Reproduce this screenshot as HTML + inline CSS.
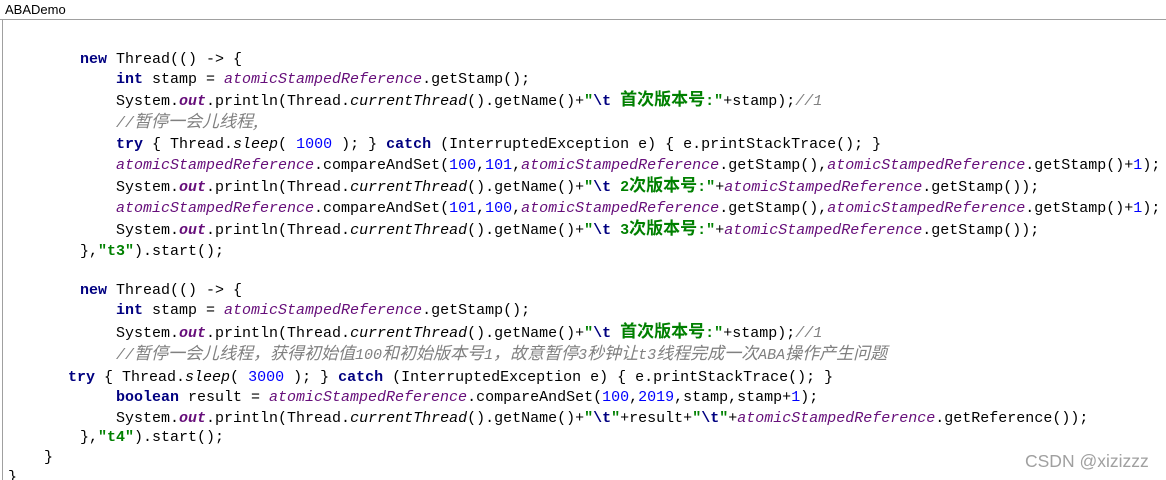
<!DOCTYPE html>
<html><head><meta charset="utf-8"><style>
html,body{margin:0;padding:0;background:#fff;width:1166px;height:480px;overflow:hidden;position:relative}
.tb{position:absolute;left:0;top:0;width:1166px;height:19px;border-bottom:1px solid #a0a0a0;font:13px "Liberation Sans",sans-serif;color:#000}
.tb span{position:absolute;left:5px;top:2px}
.lb{position:absolute;left:2px;top:20px;width:1px;height:460px;background:#a0a0a0}
.l{position:absolute;white-space:pre;font:15px/20px "Liberation Mono","Noto Sans CJK SC",monospace;color:#000}
.k{color:#000080;font-weight:bold}
.f{color:#660e7a;font-style:italic}
.o{color:#660e7a;font-style:italic;font-weight:bold}
.m{font-style:italic}
.s{color:#008000;font-weight:bold}
.e{color:#000080;font-weight:bold}
.n{color:#0000ff}
.c{color:#808080;font-style:italic}
.cj{font-family:"Noto Sans CJK SC",sans-serif;font-size:17px;line-height:0}
.wm{position:absolute;left:1025px;top:451px;font:17.5px "Liberation Sans","Noto Sans CJK SC",sans-serif;color:#a0a0a0}
</style></head><body>
<div class="tb"><span>ABADemo</span></div>
<div class="lb"></div>
<div class="l" style="left:80px;top:50px"><span class="k">new</span> Thread(() -&gt; {</div>
<div class="l" style="left:116px;top:70px"><span class="k">int</span> stamp = <span class="f">atomicStampedReference</span>.getStamp();</div>
<div class="l" style="left:116px;top:92px">System.<span class="o">out</span>.println(Thread.<span class="m">currentThread</span>().getName()+<span class="s">"</span><span class="e">\t</span><span class="s"> <span class="cj">首次版本号</span>:"</span>+stamp);<span class="c">//1</span></div>
<div class="l" style="left:116px;top:114px"><span class="c">//<span class="cj">暂停一会儿线程,</span></span></div>
<div class="l" style="left:116px;top:135px"><span class="k">try</span> { Thread.<span class="m">sleep</span>( <span class="n">1000</span> ); } <span class="k">catch</span> (InterruptedException e) { e.printStackTrace(); }</div>
<div class="l" style="left:116px;top:156px"><span class="f">atomicStampedReference</span>.compareAndSet(<span class="n">100</span>,<span class="n">101</span>,<span class="f">atomicStampedReference</span>.getStamp(),<span class="f">atomicStampedReference</span>.getStamp()+<span class="n">1</span>);</div>
<div class="l" style="left:116px;top:178px">System.<span class="o">out</span>.println(Thread.<span class="m">currentThread</span>().getName()+<span class="s">"</span><span class="e">\t</span><span class="s"> 2<span class="cj">次版本号</span>:"</span>+<span class="f">atomicStampedReference</span>.getStamp());</div>
<div class="l" style="left:116px;top:199px"><span class="f">atomicStampedReference</span>.compareAndSet(<span class="n">101</span>,<span class="n">100</span>,<span class="f">atomicStampedReference</span>.getStamp(),<span class="f">atomicStampedReference</span>.getStamp()+<span class="n">1</span>);</div>
<div class="l" style="left:116px;top:221px">System.<span class="o">out</span>.println(Thread.<span class="m">currentThread</span>().getName()+<span class="s">"</span><span class="e">\t</span><span class="s"> 3<span class="cj">次版本号</span>:"</span>+<span class="f">atomicStampedReference</span>.getStamp());</div>
<div class="l" style="left:80px;top:242px">},<span class="s">"t3"</span>).start();</div>
<div class="l" style="left:80px;top:281px"><span class="k">new</span> Thread(() -&gt; {</div>
<div class="l" style="left:116px;top:301px"><span class="k">int</span> stamp = <span class="f">atomicStampedReference</span>.getStamp();</div>
<div class="l" style="left:116px;top:324px">System.<span class="o">out</span>.println(Thread.<span class="m">currentThread</span>().getName()+<span class="s">"</span><span class="e">\t</span><span class="s"> <span class="cj">首次版本号</span>:"</span>+stamp);<span class="c">//1</span></div>
<div class="l" style="left:116px;top:346px"><span class="c">//<span class="cj">暂停一会儿线程，获得初始值</span>100<span class="cj">和初始版本号</span>1<span class="cj">，故意暂停</span>3<span class="cj">秒钟让</span>t3<span class="cj">线程完成一次</span>ABA<span class="cj">操作产生问题</span></span></div>
<div class="l" style="left:68px;top:368px"><span class="k">try</span> { Thread.<span class="m">sleep</span>( <span class="n">3000</span> ); } <span class="k">catch</span> (InterruptedException e) { e.printStackTrace(); }</div>
<div class="l" style="left:116px;top:388px"><span class="k">boolean</span> result = <span class="f">atomicStampedReference</span>.compareAndSet(<span class="n">100</span>,<span class="n">2019</span>,stamp,stamp+<span class="n">1</span>);</div>
<div class="l" style="left:116px;top:409px">System.<span class="o">out</span>.println(Thread.<span class="m">currentThread</span>().getName()+<span class="s">"</span><span class="e">\t</span><span class="s">"</span>+result+<span class="s">"</span><span class="e">\t</span><span class="s">"</span>+<span class="f">atomicStampedReference</span>.getReference());</div>
<div class="l" style="left:80px;top:428px">},<span class="s">"t4"</span>).start();</div>
<div class="l" style="left:44px;top:448px">}</div>
<div class="l" style="left:8px;top:468px">}</div>
<div class="wm">CSDN @xizizzz</div>
</body></html>
